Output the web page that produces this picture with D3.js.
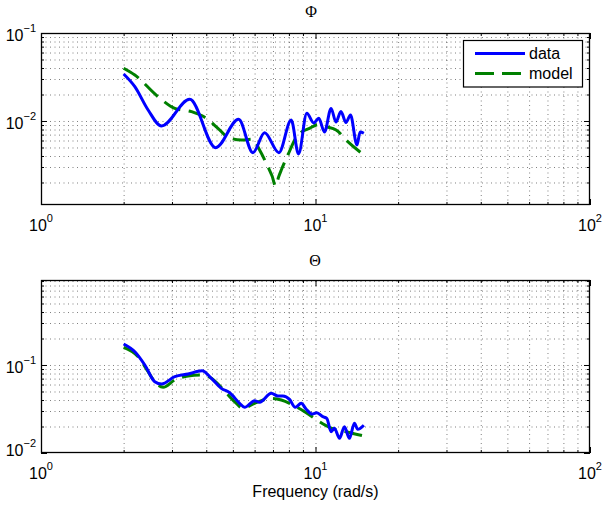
<!DOCTYPE html>
<html>
<head>
<meta charset="utf-8">
<script src="https://cdn.jsdelivr.net/npm/d3@7"></script>
<style>
  body { margin: 0; background: #fff; }
  svg text { font-family: "Liberation Sans", Arial, Helvetica, sans-serif; fill: #000; }
</style>
</head>
<body>
<svg id="chart" width="603" height="509"></svg>
<script>
// ---- Phi: measured response and fitted model ----
const phiFreq = [2.0, 2.197, 2.456, 2.748, 3.482, 4.329, 5.248, 5.916, 6.524, 7.355, 8.157, 8.676,
                 9.298, 9.858, 10.28, 10.78, 11.40, 11.87, 12.38, 12.91, 13.41, 14.16, 14.54, 15.0];
const phiData = [0.0342, 0.02455, 0.01333, 0.00877, 0.01766, 0.00498, 0.01045, 0.00436, 0.00736, 0.00436, 0.01026, 0.00422,
                 0.01224, 0.00949, 0.01074, 0.0075, 0.01387, 0.00975, 0.01283, 0.00962, 0.0117, 0.00534, 0.0075, 0.00725];
const phiModelFreq = [2.0, 2.197, 2.670, 3.072, 3.532, 3.948, 4.413, 4.799, 5.369, 5.916, 6.257, 6.707,
                      6.948, 7.154, 7.338, 7.506, 7.931, 8.624, 9.510, 10.25, 10.94, 11.89, 13.11, 15.0];
const phiModel = [0.0397, 0.0333, 0.01888, 0.01393, 0.01277, 0.01102, 0.00826, 0.00653, 0.00608, 0.0062, 0.00468, 0.00303,
                  0.00237, 0.001824, 0.00231, 0.00277, 0.00411, 0.00693, 0.00826, 0.00912, 0.00861, 0.00791, 0.00582, 0.00411];

// ---- Theta: measured response and fitted model ----
const thetaFreq = [2.0, 2.197, 2.389, 2.597, 2.748, 3.072, 3.434, 3.860, 4.176, 4.540, 4.867, 5.291, 5.518,
                   6.000, 6.257, 6.902, 7.293, 7.605, 8.044, 8.437, 8.872, 9.251, 9.728, 10.11, 10.63, 10.99,
                   11.40, 11.72, 12.23, 12.75, 13.29, 13.86, 14.25, 15.0];
const thetaData = [0.1733, 0.1416, 0.1, 0.0646, 0.0608, 0.0736, 0.079, 0.0862, 0.0706, 0.0543, 0.0484, 0.0367, 0.0330,
                   0.0393, 0.0377, 0.0477, 0.0445, 0.0445, 0.0407, 0.0330, 0.0367, 0.0314, 0.0277, 0.0287, 0.0259, 0.0248,
                   0.01746, 0.0191, 0.01469, 0.0199, 0.01469, 0.02175, 0.0186, 0.0207];
const thetaModelFreq = [2.0, 2.259, 2.456, 2.597, 2.785, 3.072, 3.434, 3.860, 4.176, 4.602, 5.076, 5.440,
                        6.000, 6.902, 7.506, 8.269, 9.251, 10.34, 11.24, 12.93, 15.0];
const thetaModel = [0.159, 0.1243, 0.0839, 0.0646, 0.0558, 0.0676, 0.075, 0.077, 0.0706, 0.053, 0.0383, 0.0322,
                    0.0367, 0.0418, 0.04, 0.0351, 0.0287, 0.0227, 0.0196, 0.01746, 0.0156];

// ---- Axis limits and tick exponents ----
const xLimits = [1, 100];
const xTickExponents = [0, 1, 2];
const phiYLimits = [0.00111, 0.1];
const phiYTickExponents = [-2, -1];
const thetaYLimits = [0.01, 0.9245];
const thetaYTickExponents = [-2, -1];

const seriesNames = ["data", "model"];
const colors = { data: "#0000ff", model: "#008000" };

const svg = d3.select("#chart");
const left = 41, right = 590;

// minor tick/grid positions for a log domain (2..9 × each decade)
function logSubTicks(domain) {
  const out = [];
  const lo = Math.floor(Math.log10(domain[0])), hi = Math.ceil(Math.log10(domain[1]));
  for (let e = lo; e < hi; e++) {
    for (let k = 1; k <= 9; k++) {
      const v = k * Math.pow(10, e);
      if (v >= domain[0] * 0.9999 && v <= domain[1] * 1.0001) out.push(v);
    }
  }
  return out;
}

function addPowerLabel(sel, exp) {
  sel.append("tspan").text("10");
  sel.append("tspan").attr("dy", -9).attr("font-size", 11).text(String(exp).replace("-", "\u2212"));
}

function drawPanel(cfg) {
  const { top, bottom, yLimits, yExps, title, titleX, titleY, data, model, legend, clipId } = cfg;
  const x = d3.scaleLog().domain(xLimits).range([left, right]);
  const y = d3.scaleLog().domain(yLimits).range([bottom, top]);
  const h = bottom - top, w = right - left;
  const g = svg.append("g");

  // white plotting area
  g.append("rect").attr("x", left).attr("y", top).attr("width", w).attr("height", h).attr("fill", "#fff");

  // dotted grid
  const xGrid = logSubTicks(xLimits).filter(v => v > xLimits[0] && v < xLimits[1]);
  const yGrid = logSubTicks(yLimits).filter(v => v > yLimits[0] && v < yLimits[1]);
  g.append("g").attr("class", "grid").attr("transform", `translate(0,${bottom})`)
    .call(d3.axisBottom(x).tickValues(xGrid).tickSize(-h).tickFormat(""))
    .call(s => s.select(".domain").remove())
    .selectAll("line").attr("stroke", "#000").attr("stroke-opacity", 0.5).attr("stroke-dasharray", "1,3.5");
  g.append("g").attr("class", "grid").attr("transform", `translate(${left},0)`)
    .call(d3.axisLeft(y).tickValues(yGrid).tickSize(-w).tickFormat(""))
    .call(s => s.select(".domain").remove())
    .selectAll("line").attr("stroke", "#000").attr("stroke-opacity", 0.5).attr("stroke-dasharray", "1,3.5");

  // inward ticks on all four sides
  const xMajor = xTickExponents.map(e => Math.pow(10, e));
  const yMajor = yExps.map(e => Math.pow(10, e));
  const xMinor = logSubTicks(xLimits).filter(v => !xMajor.includes(v));
  const yMinor = logSubTicks(yLimits).filter(v => !yMajor.includes(v));
  const tickSets = [
    [d3.axisBottom, x, `translate(0,${bottom})`, xMajor, xMinor],
    [d3.axisTop, x, `translate(0,${top})`, xMajor, xMinor],
    [d3.axisLeft, y, `translate(${left},0)`, yMajor, yMinor],
    [d3.axisRight, y, `translate(${right},0)`, yMajor, yMinor]
  ];
  tickSets.forEach(([axisFn, sc, tr, maj, min]) => {
    [[maj, 6], [min, 3]].forEach(([vals, len]) => {
      g.append("g").attr("transform", tr)
        .call(axisFn(sc).tickValues(vals).tickSize(-len).tickSizeOuter(0).tickFormat(""))
        .call(s => s.select(".domain").remove())
        .selectAll("line").attr("stroke", "#000");
    });
  });

  // curves
  g.append("clipPath").attr("id", clipId).append("rect")
    .attr("x", left).attr("y", top).attr("width", w).attr("height", h);
  const line = d3.line().x(d => x(d[0])).y(d => y(d[1])).curve(d3.curveMonotoneX);
  const curves = g.append("g").attr("clip-path", `url(#${clipId})`);
  curves.append("path").datum(d3.zip(model[0], model[1])).attr("d", line)
    .attr("fill", "none").attr("stroke", colors.model).attr("stroke-width", 3)
    .attr("stroke-dasharray", "18,8.5");
  curves.append("path").datum(d3.zip(data[0], data[1])).attr("d", line)
    .attr("fill", "none").attr("stroke", colors.data).attr("stroke-width", 3)
    .attr("stroke-linejoin", "round");

  // frame
  g.append("rect").attr("x", left + 0.5).attr("y", top + 0.5).attr("width", w - 1).attr("height", h - 1)
    .attr("fill", "none").attr("stroke", "#000").attr("stroke-width", 1.3);

  // tick labels
  xTickExponents.forEach(e => {
    const t = g.append("text").attr("x", x(Math.pow(10, e))).attr("y", bottom + 26)
      .attr("text-anchor", "middle").attr("font-size", 16);
    addPowerLabel(t, e);
  });
  yExps.forEach(e => {
    const yy = y(Math.pow(10, e));
    const t = g.append("text").attr("x", 36).attr("y", Math.min(yy + 7.7, bottom + 2.5))
      .attr("text-anchor", "end").attr("font-size", 16);
    addPowerLabel(t, e);
  });

  // title
  g.append("text").attr("x", titleX).attr("y", titleY).attr("text-anchor", "middle")
    .attr("font-size", 16).style("font-family", "'Liberation Serif', 'DejaVu Serif', serif").text(title);

  // legend
  if (legend) {
    const lg = g.append("g");
    lg.append("rect").attr("x", 463.5).attr("y", 40.5).attr("width", 119).attr("height", 46.5)
      .attr("fill", "#fff").attr("stroke", "#000").attr("stroke-width", 1.2);
    seriesNames.forEach((name, i) => {
      const ly = 53.5 + i * 20;
      lg.append("line").attr("x1", 475).attr("x2", 525).attr("y1", ly).attr("y2", ly)
        .attr("stroke", colors[name]).attr("stroke-width", 3)
        .attr("stroke-dasharray", name === "model" ? "19,8" : null);
      lg.append("text").attr("x", 529).attr("y", ly + 5.8).attr("font-size", 16).text(name);
    });
  }
}

drawPanel({
  top: 33, bottom: 205, yLimits: phiYLimits, yExps: phiYTickExponents,
  title: "\u03A6", titleX: 311, titleY: 17,
  data: [phiFreq, phiData], model: [phiModelFreq, phiModel], legend: true, clipId: "clipPhi"
});
drawPanel({
  top: 280, bottom: 453, yLimits: thetaYLimits, yExps: thetaYTickExponents,
  title: "\u0398", titleX: 315, titleY: 266,
  data: [thetaFreq, thetaData], model: [thetaModelFreq, thetaModel], legend: false, clipId: "clipTheta"
});

// shared x-axis label
svg.append("text").attr("x", 315.5).attr("y", 497).attr("text-anchor", "middle")
  .attr("font-size", 16).text("Frequency (rad/s)");
</script>
</body>
</html>
